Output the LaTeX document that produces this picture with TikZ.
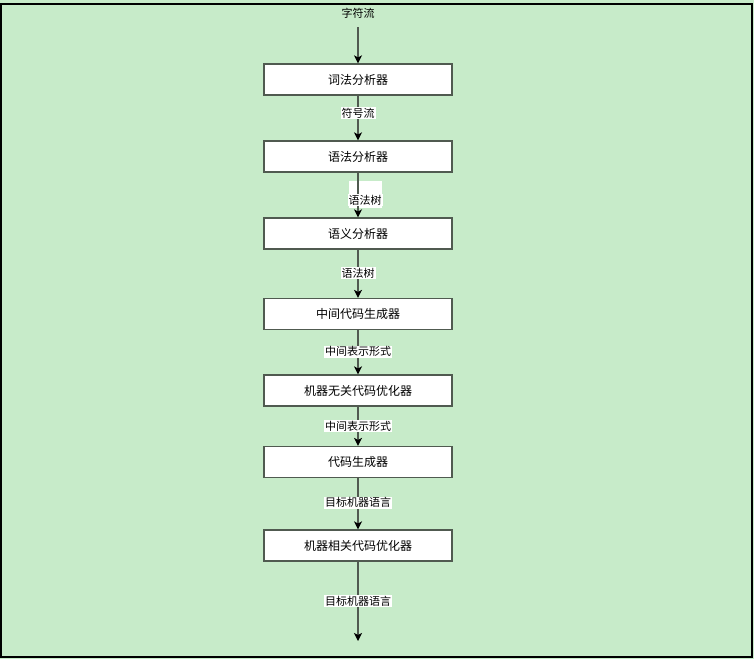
\documentclass[tikz,border=0pt]{standalone}
\usepackage{fontspec}
\newfontfamily\cjk{Noto Sans CJK SC}
\usetikzlibrary{arrows.meta}
\definecolor{bggreen}{RGB}{199,235,201}
\definecolor{edgegray}{RGB}{80,90,80}
\tikzset{
  stage/.style={draw=edgegray, line width=1.2pt, fill=white, minimum width=188pt, minimum height=31pt,
    inner sep=0pt, font=\cjk\fontsize{12pt}{14pt}\selectfont},
  flow/.style={draw=edgegray, line width=1.2pt, -{Stealth[length=8pt,width=8pt,inset=2pt,color=black]}},
  tag/.style={fill=white, inner sep=1pt, font=\cjk\fontsize{11pt}{13pt}\selectfont},
}
\begin{document}
\begin{tikzpicture}[x=1pt,y=-1pt]
  % canvas and frame
  \fill[bggreen] (0,0) rectangle (754,659);
  \draw[black, line width=1.2pt] (1,4) rectangle (752,657);
  \useasboundingbox (0,0) rectangle (754,659);

  % pipeline stages
  \node[stage] (lex) at (358,79.5) {词法分析器};
  \node[stage] (syn) at (358,156.5) {语法分析器};
  \node[stage] (sem) at (358,233.5) {语义分析器};
  \node[stage] (ir)  at (358,314) {中间代码生成器};
  \node[stage] (opt) at (358,390.5) {机器无关代码优化器};
  \node[stage] (gen) at (358,462) {代码生成器};
  \node[stage] (mopt) at (358,545.5) {机器相关代码优化器};

  % input and output ends
  \node[font=\cjk\fontsize{11pt}{13pt}\selectfont] (src) at (358,13) {字符流};
  \coordinate (in) at (358,27);
  \coordinate (out) at (358,641);

  % white patch behind the parse-tree label
  \fill[white] (349,181) rectangle (382,208);

  % connectors
  \draw[flow] (in) -- (lex);
  \draw[flow] (lex) -- node[tag, pos=0.39] (l1) {符号流} (syn);
  \draw[flow] (syn) -- node[tag, pos=0.61, xshift=7pt] (l2) {语法树} (sem);
  \draw[flow] (sem) -- node[tag, pos=0.49] (l3) {语法树} (ir);
  \draw[flow] (ir) -- node[tag, pos=0.49] (l4) {中间表示形式} (opt);
  \draw[flow] (opt) -- node[tag, pos=0.5] (l5) {中间表示形式} (gen);
  \draw[flow] (gen) -- node[tag, pos=0.48] (l6) {目标机器语言} (mopt);
  \draw[flow] (mopt) -- node[tag, pos=0.5] (l7) {目标机器语言} (out);
\end{tikzpicture}
\end{document}
